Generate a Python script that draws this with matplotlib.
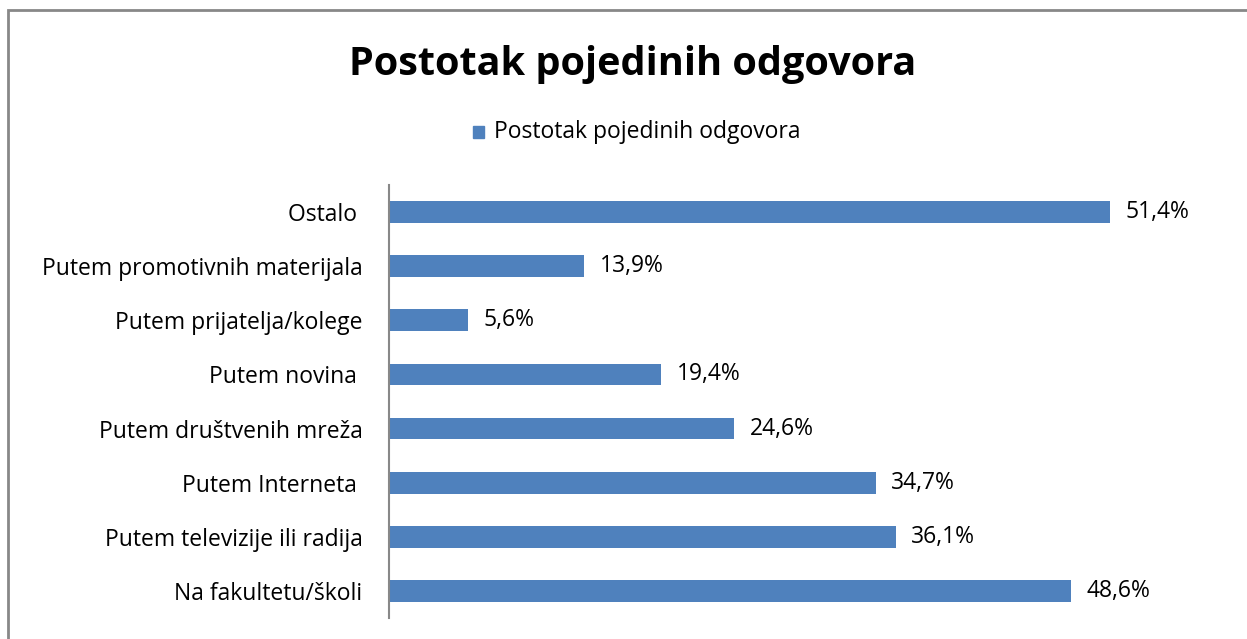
import matplotlib
matplotlib.use('Agg')
from matplotlib import pyplot as plt
from matplotlib.patches import Rectangle

# Podaci
kategorije = ['Na fakultetu/školi', 'Putem televizije ili radija', 'Putem Interneta ',
              'Putem društvenih mreža', 'Putem novina ', 'Putem prijatelja/kolege',
              'Putem promotivnih materijala', 'Ostalo ']
vrijednosti = [48.6, 36.1, 34.7, 24.6, 19.4, 5.6, 13.9, 51.4]
oznake = ['48,6%', '36,1%', '34,7%', '24,6%', '19,4%', '5,6%', '13,9%', '51,4%']
naslov = 'Postotak pojedinih odgovora'

plt.rcParams['font.family'] = ['Open Sans', 'DejaVu Sans']
boja = '#4F81BD'

fig = plt.figure(figsize=(12.47, 6.39), dpi=100)
ax = fig.add_axes([389 / 1247, 1 - 618 / 639, (1231 - 389) / 1247, (618 - 185) / 639])

ax.barh(range(len(kategorije)), vrijednosti, height=0.4, color=boja)
for i, (v, t) in enumerate(zip(vrijednosti, oznake)):
    ax.text(v + 1.1, i, t, va='center', ha='left', fontsize=16.5, color='black')

ax.set_xlim(0, 60)
ax.set_ylim(-0.5, len(kategorije) - 0.5)
ax.set_yticks(range(len(kategorije)))
ax.set_yticklabels(kategorije, fontsize=16.5)
ax.tick_params(axis='y', length=0, pad=19)
ax.set_xticks([])
for s in ['top', 'right', 'bottom']:
    ax.spines[s].set_visible(False)
ax.spines['left'].set_color('#888888')
ax.spines['left'].set_linewidth(1.5)

# Naslov i legenda
fig.text(633 / 1247, 1 - 64 / 639, naslov, ha='center', va='center',
         fontsize=28.5, fontweight='bold')
fig.patches.append(Rectangle((473 / 1247, 1 - 138 / 639), 11 / 1247, 12 / 639,
                             transform=fig.transFigure, color=boja))
fig.text(494 / 1247, 1 - 132 / 639, naslov, ha='left', va='center', fontsize=16.5)

# Okvir
fig.patches.append(Rectangle((8 / 1247, -0.1), 1.2, 1 - 10 / 639 + 0.1,
                             transform=fig.transFigure, fill=False,
                             edgecolor='#888888', linewidth=2))

fig.savefig('out.png', dpi=100)
